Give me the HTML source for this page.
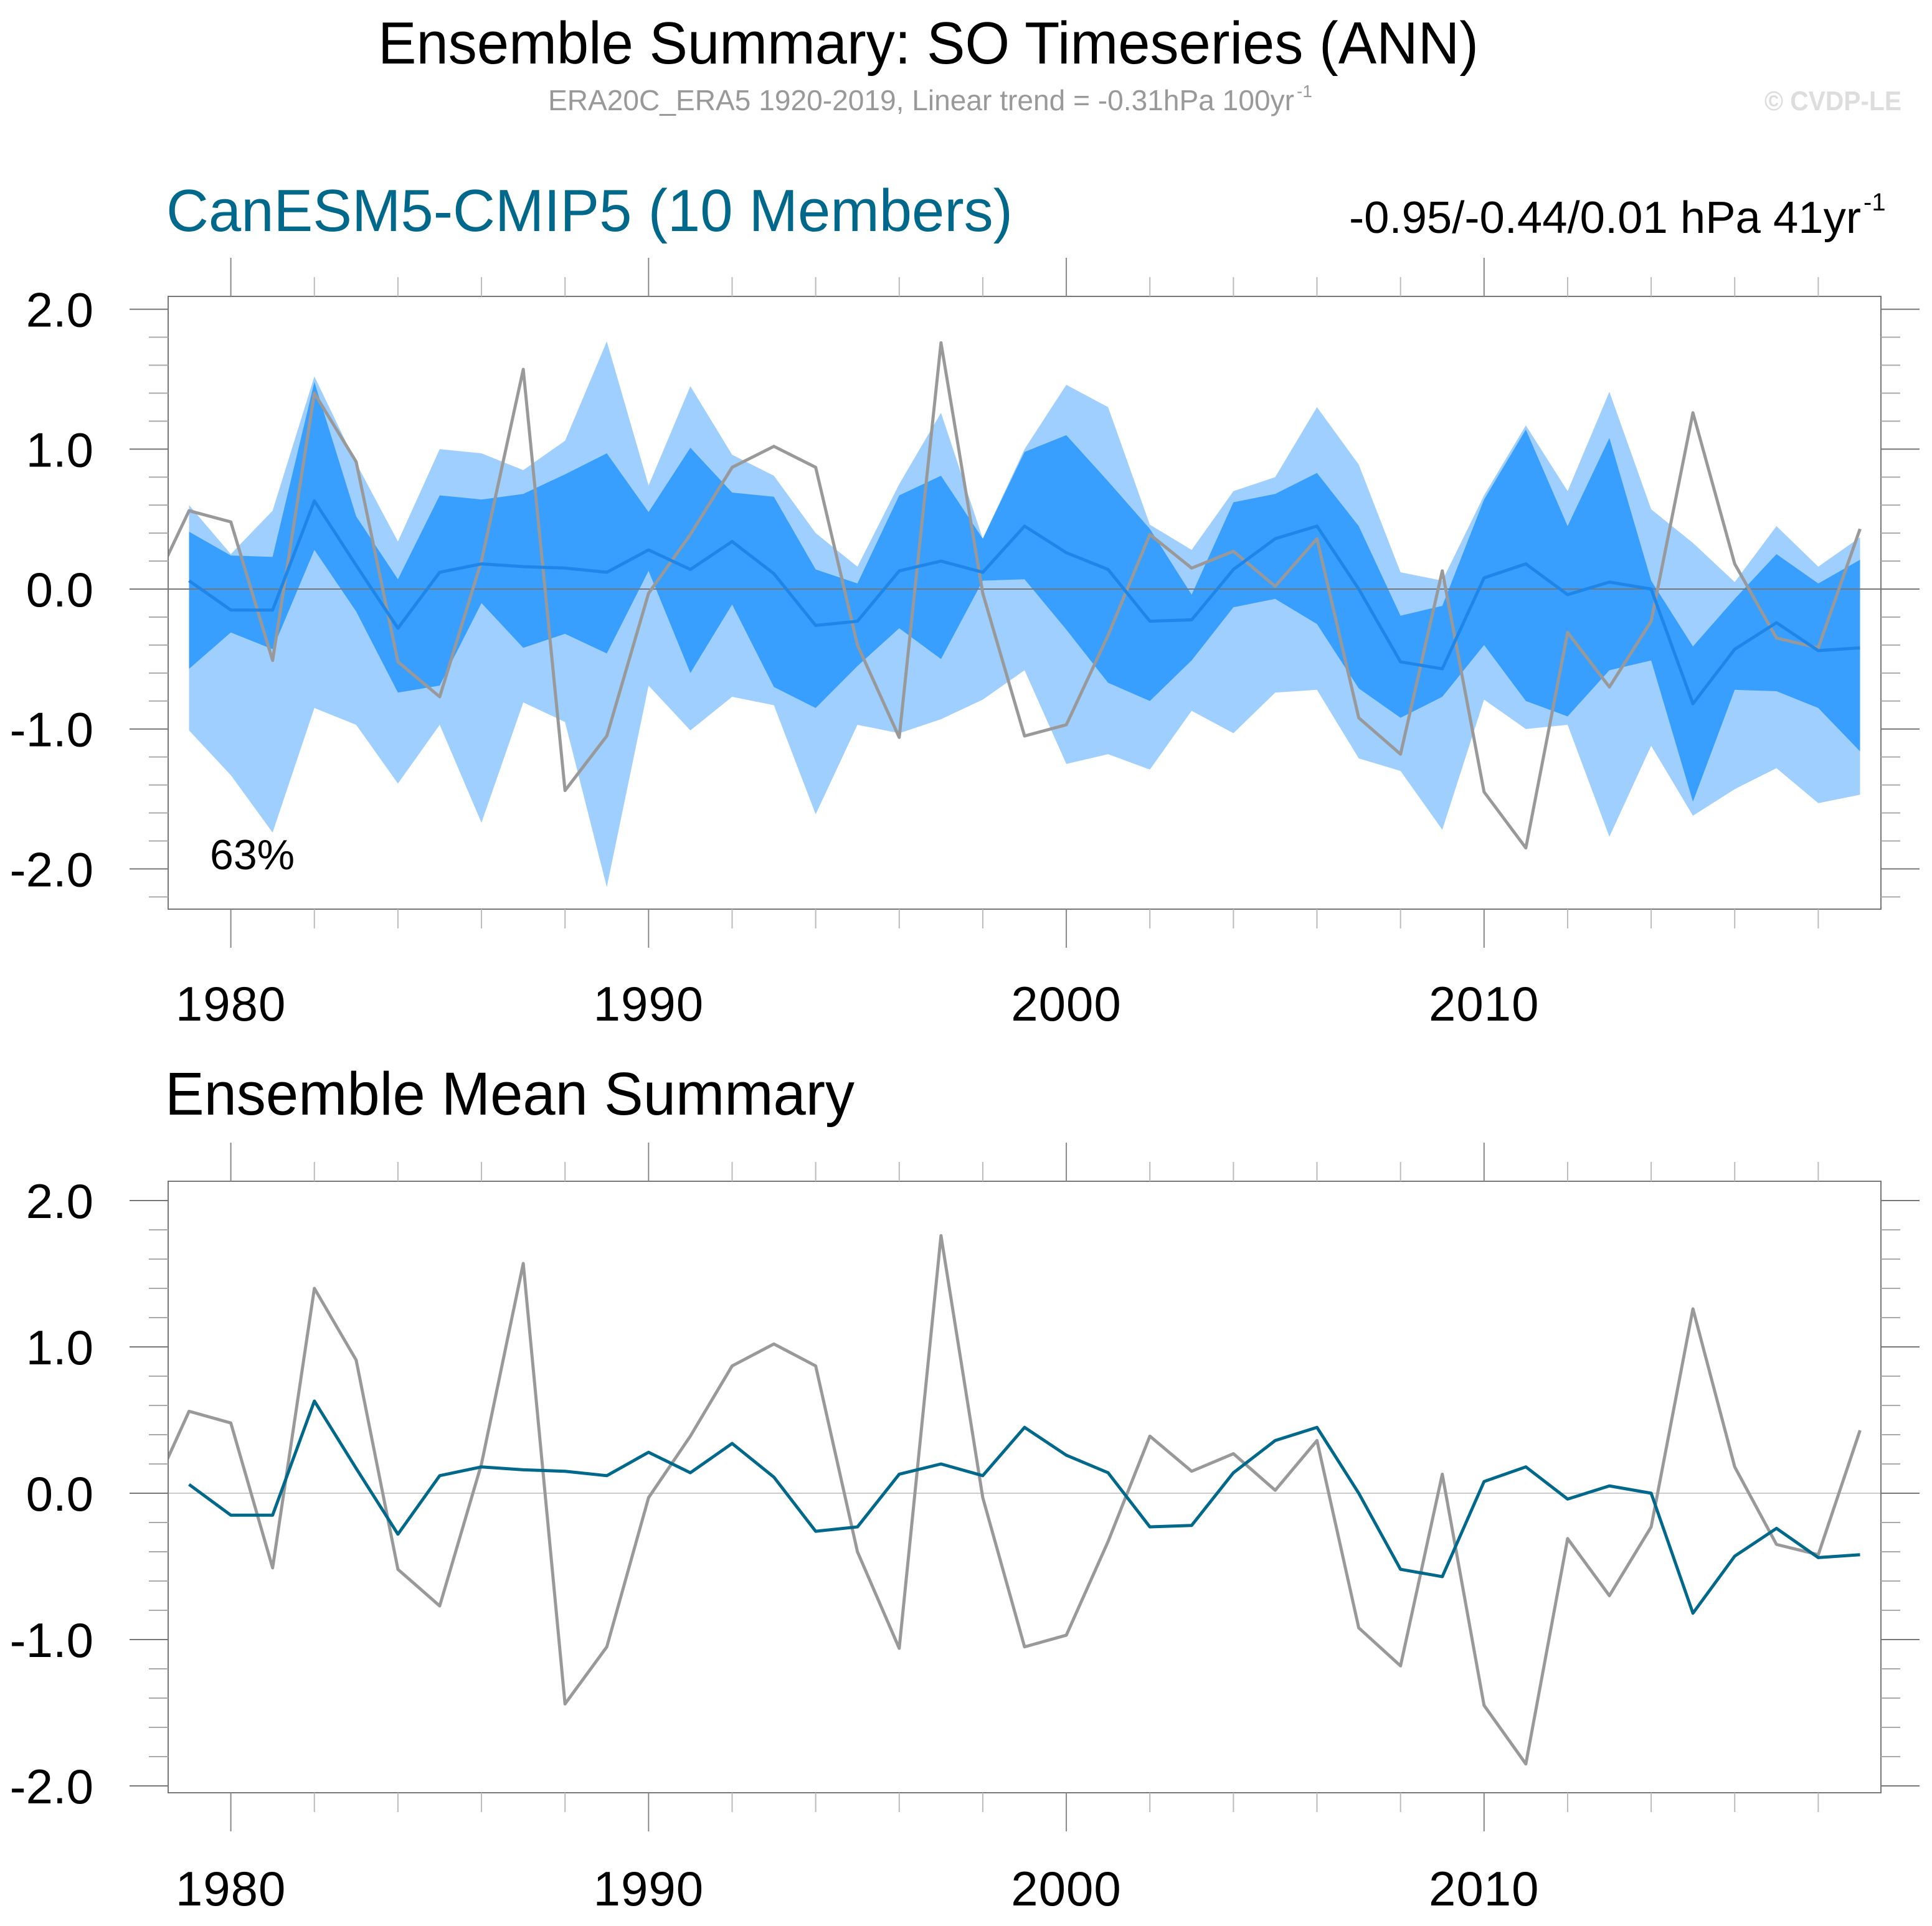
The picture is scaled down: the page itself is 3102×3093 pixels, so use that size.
<!DOCTYPE html>
<html><head><meta charset="utf-8"><title>Ensemble Summary: SO Timeseries</title>
<style>html,body{margin:0;padding:0;background:#fff}svg{display:block}</style></head>
<body>
<svg id="chart" xmlns="http://www.w3.org/2000/svg" width="3102" height="3093" viewBox="0 0 3102 3093" font-family="Liberation Sans, sans-serif">
<rect width="3102" height="3093" fill="#fff"/>
<text x="607" y="102" font-size="96" textLength="1767" lengthAdjust="spacingAndGlyphs">Ensemble Summary: SO Timeseries (ANN)</text>
<text x="880" y="177" font-size="46" fill="#999" textLength="1198" lengthAdjust="spacingAndGlyphs">ERA20C_ERA5 1920-2019, Linear trend = -0.31hPa 100yr</text>
<text x="2082" y="156" font-size="28" fill="#999">-1</text>
<text x="2833" y="177" font-size="44" font-weight="bold" fill="#ddd" textLength="220" lengthAdjust="spacingAndGlyphs">© CVDP-LE</text>
<text x="267" y="371" font-size="96" fill="#00688b" textLength="1359" lengthAdjust="spacingAndGlyphs">CanESM5-CMIP5 (10 Members)</text>
<text x="2166" y="374" font-size="72" textLength="822" lengthAdjust="spacingAndGlyphs">-0.95/-0.44/0.01 hPa 41yr</text>
<text x="2992" y="338" font-size="40">-1</text>
<text x="265" y="1790" font-size="97" textLength="1107" lengthAdjust="spacingAndGlyphs">Ensemble Mean Summary</text>
<g id="p1"></g>
<g id="p2"></g>
</svg>
<script>
const years = [1979,1980,1981,1982,1983,1984,1985,1986,1987,1988,1989,1990,1991,1992,1993,1994,1995,1996,1997,1998,1999,2000,2001,2002,2003,2004,2005,2006,2007,2008,2009,2010,2011,2012,2013,2014,2015,2016,2017,2018,2019];
const ensMean = [0.06,-0.15,-0.15,0.63,0.17,-0.28,0.12,0.18,0.16,0.15,0.12,0.28,0.14,0.34,0.11,-0.26,-0.23,0.13,0.20,0.12,0.45,0.26,0.14,-0.23,-0.22,0.14,0.36,0.45,0.0,-0.52,-0.57,0.08,0.18,-0.04,0.05,0.0,-0.82,-0.43,-0.24,-0.44,-0.42];
const spreadMax = [0.60,0.25,0.56,1.52,0.90,0.34,1.00,0.97,0.85,1.06,1.77,0.74,1.45,0.96,0.81,0.40,0.16,0.75,1.26,0.36,1.00,1.46,1.30,0.46,0.28,0.70,0.80,1.30,0.89,0.12,0.06,0.67,1.17,0.70,1.41,0.57,0.33,0.05,0.45,0.16,0.37];
const spreadHi = [0.41,0.24,0.23,1.48,0.52,0.07,0.67,0.64,0.68,0.82,0.97,0.55,1.01,0.69,0.66,0.14,0.04,0.67,0.81,0.36,0.98,1.10,0.77,0.43,-0.04,0.62,0.68,0.83,0.45,-0.19,-0.12,0.64,1.14,0.45,1.08,0.06,-0.41,-0.07,0.25,0.04,0.21];
const spreadLo = [-0.57,-0.31,-0.43,0.28,-0.16,-0.74,-0.69,-0.10,-0.42,-0.32,-0.46,0.13,-0.60,-0.11,-0.70,-0.85,-0.55,-0.28,-0.50,0.06,0.07,-0.29,-0.67,-0.80,-0.51,-0.13,-0.07,-0.25,-0.71,-0.92,-0.77,-0.40,-0.80,-0.91,-0.58,-0.51,-1.52,-0.72,-0.73,-0.85,-1.16];
const spreadMin = [-1.01,-1.33,-1.74,-0.85,-0.97,-1.39,-0.97,-1.67,-0.81,-0.95,-2.13,-0.69,-1.01,-0.77,-0.83,-1.61,-0.97,-1.03,-0.93,-0.79,-0.58,-1.25,-1.18,-1.29,-0.87,-1.03,-0.74,-0.72,-1.21,-1.30,-1.72,-0.79,-1.00,-0.97,-1.77,-1.12,-1.62,-1.43,-1.28,-1.53,-1.47];
const obsYears = [1978,1979,1980,1981,1982,1983,1984,1985,1986,1987,1988,1989,1990,1991,1992,1993,1994,1995,1996,1997,1998,1999,2000,2001,2002,2003,2004,2005,2006,2007,2008,2009,2010,2011,2012,2013,2014,2015,2016,2017,2018,2019];
const obs = [-0.07,0.56,0.48,-0.51,1.40,0.91,-0.52,-0.77,0.20,1.57,-1.44,-1.05,-0.03,0.39,0.87,1.02,0.87,-0.40,-1.06,1.76,-0.03,-1.05,-0.97,-0.33,0.39,0.15,0.27,0.02,0.36,-0.92,-1.18,0.13,-1.45,-1.85,-0.31,-0.70,-0.23,1.26,0.18,-0.35,-0.42,0.43];
const yTickLabels = ["2.0","1.0","0.0","-1.0","-2.0"];
const yTickValues = [2,1,0,-1,-2];
const xTickLabels = ["1980","1990","2000","2010"];
const xTickValues = [1980,1990,2000,2010];

const NS = 'http://www.w3.org/2000/svg';
function mk(parent, tag, attrs){const e=document.createElementNS(NS,tag);for(const k in attrs)e.setAttribute(k,attrs[k]);parent.appendChild(e);return e;}

function panel(g, cfg){
  const L=270,R=3020,T=cfg.top,B=cfg.bottom;
  const xs = y => L + (y-1978.5)/(2019.5-1978.5)*(R-L);
  const ys = v => cfg.y0 - v*cfg.unit;
  const id='clip'+cfg.key;
  const defs=mk(g,'defs',{});
  const cp=mk(defs,'clipPath',{id:id});
  mk(cp,'rect',{x:L,y:T,width:R-L,height:B-T});
  const body=mk(g,'g',{'clip-path':'url(#'+id+')'});
  
  
  if(cfg.bands){
    let pts=years.map((y,i)=>xs(y)+','+ys(spreadMax[i])).concat(years.slice().reverse().map((y,j)=>{const i=years.length-1-j;return xs(y)+','+ys(spreadMin[i]);}));
    const b1=mk(body,'polygon',{points:pts.join(' '),fill:'#9fcfff'});
    
    
    pts=years.map((y,i)=>xs(y)+','+ys(spreadHi[i])).concat(years.slice().reverse().map((y,j)=>{const i=years.length-1-j;return xs(y)+','+ys(spreadLo[i]);}));
    const b2=mk(body,'polygon',{points:pts.join(' '),fill:'#389fff'});
    
    
  }
  const z=mk(body,'line',{x1:L,x2:R,y1:ys(0),y2:ys(0),stroke:cfg.zeroColor,'stroke-width':2});
  
  
  const o=mk(body,'polyline',{points:obsYears.map((y,i)=>xs(y)+','+ys(obs[i])).join(' '),fill:'none',stroke:'#999','stroke-width':5,'stroke-linejoin':'round'});
  
  
  const m=mk(body,'polyline',{points:years.map((y,i)=>xs(y)+','+ys(ensMean[i])).join(' '),fill:'none',stroke:cfg.meanColor,'stroke-width':5,'stroke-linejoin':'round'});
  
  
  const fr=mk(g,'rect',{x:L,y:T,width:R-L,height:B-T,fill:'none',stroke:'#777','stroke-width':2});
  
  
  for(let k=-11;k<=11;k++){
    const v=k*0.2; const yy=ys(v);
    if(yy<T-1||yy>B+1) continue;
    const major=(k%5===0);
    const len=major?62:31;
    const t1=mk(g,'line',{x1:L-len,x2:L,y1:yy,y2:yy,stroke:major?'#777':'#aaa','stroke-width':2});
    
    
    const t2=mk(g,'line',{x1:R,x2:R+len,y1:yy,y2:yy,stroke:major?'#777':'#aaa','stroke-width':2});
    
    
  }
  yTickLabels.forEach((s,i)=>{
    const t=mk(g,'text',{x:150,y:ys(yTickValues[i])+28,'font-size':78,'text-anchor':'end','letter-spacing':0});
    t.textContent=s;
    
    
  });
  for(let y=1980;y<=2018;y+=2){
    const major=(y%10===0);const len=major?62:31;const xx=xs(y);
    const a=mk(g,'line',{x1:xx,x2:xx,y1:T-len,y2:T,stroke:major?'#888':'#bbb','stroke-width':2});
    
    
    const b=mk(g,'line',{x1:xx,x2:xx,y1:B,y2:B+len,stroke:major?'#888':'#bbb','stroke-width':2});
    
    
  }
  xTickLabels.forEach((s,i)=>{
    const t=mk(g,'text',{x:xs(xTickValues[i]),y:cfg.labelY,'font-size':78,'text-anchor':'middle','letter-spacing':1});
    t.textContent=s;
    
    
  });
  if(cfg.pct){
    const t=mk(g,'text',{x:337,y:1396,'font-size':68});
    t.textContent='63%';
    
    
  }
}
panel(document.getElementById('p1'),{key:1,top:476,bottom:1460,y0:946,unit:224.7,bands:true,meanColor:'#1e86e8',zeroColor:'#777',labelY:1639,pct:true});
panel(document.getElementById('p2'),{key:2,top:1897,bottom:2879,y0:2398,unit:235,bands:false,meanColor:'#00688b',zeroColor:'#ccc',labelY:3060,pct:false});
</script>
</body></html>
